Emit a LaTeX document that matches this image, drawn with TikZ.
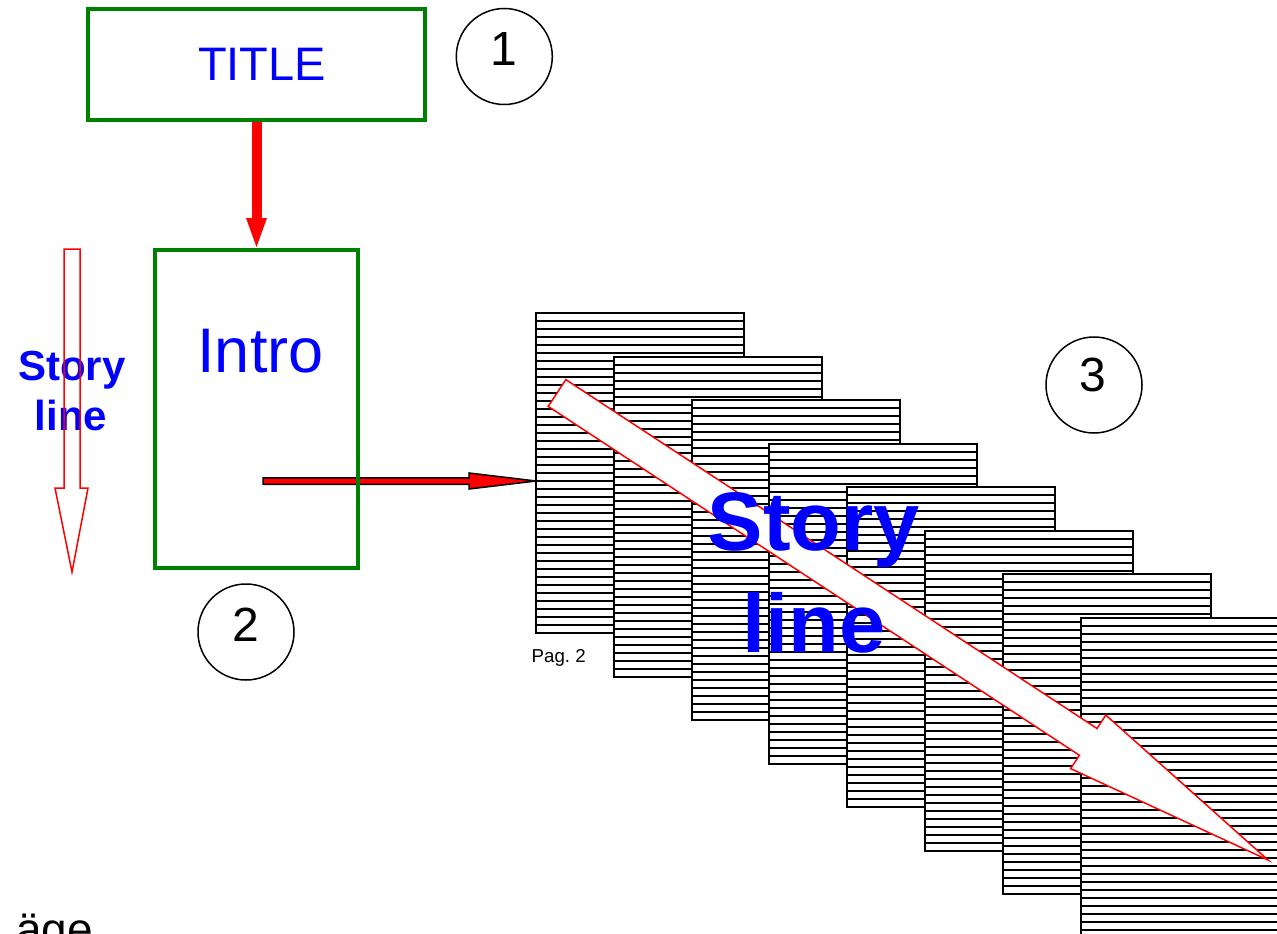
\documentclass[tikz,border=0pt]{standalone}
\usepackage{fontspec}
\setmainfont{Liberation Sans}
\usetikzlibrary{arrows.meta,calc}
\pgfdeclarelayer{background}
\pgfsetlayers{background,main}
\definecolor{tgreen}{RGB}{0,128,0}
\definecolor{tblue}{RGB}{0,0,255}
\definecolor{tred}{RGB}{255,0,0}
\begin{document}
\begin{tikzpicture}[x=1pt,y=-1pt,
  greenbox/.style={draw=tgreen, line width=4, inner sep=0, outer sep=0},
  circ/.style={draw=black, circle, line width=1.5, minimum size=96, inner sep=0, outer sep=0},
  numtxt/.style={inner sep=0, font=\fontsize{48}{56}\selectfont},
  bluetxt/.style={inner sep=0, text=tblue},
  page/.style={draw=black, fill=white, line width=1.5, minimum width=208, minimum height=320, inner sep=0, outer sep=0},
  pline/.style={black, line width=1.4},
  redconn/.style={tred, line width=10, -{Triangle[width=18pt,length=32pt]}},
  outlined/.style={fill=tred, draw=black, line width=1.5, line join=miter},
  hollow/.style={draw=tred, line width=1.5, line join=miter}
]
\useasboundingbox (0,0) rectangle (1277,934);
\clip (0,0) rectangle (1277,934);

% boxes
\node[greenbox, minimum width=337, minimum height=111] (title) at (256.5,64.5) {};
\node[bluetxt, anchor=base, font=\fontsize{47}{56}\selectfont] (titletxt) at (262,81) {TITLE};
\node[greenbox, minimum width=203, minimum height=318] (intro) at (256.5,409) {};
\node[bluetxt, anchor=base, font=\fontsize{63}{76}\selectfont] (introtxt) at (260.5,372) {Intro};

% numbered circles
\node[circ] (c1) at (504.3,56.5) {};
\node[numtxt] (n1) at (504,49) {1};
\node[circ] (c2) at (246,632) {};
\node[numtxt] (n2) at (246,625) {2};
\node[circ] (c3) at (1094,385) {};
\node[numtxt] (n3) at (1093,375) {3};

% pages
\foreach \i in {0,...,7} {
  \pgfmathsetmacro\px{round(536+77.8*\i)}
  \pgfmathsetmacro\py{round(313+43.5*\i)}
  \node[page] (p\i) at (\px+104,\py+160) {};
  \foreach \k in {1,...,39} {
    \draw[pline] (p\i.north west) ++(0,8*\k) -- ++(208,0);
  }
}
\node[inner sep=0, anchor=base west, font=\fontsize{18.7}{22}\selectfont] (pag) at (531.5,662) {Pag.~2};

% connectors (behind the boxes)
\coordinate (s) at (263,481);
\coordinate (t) at (s -| p0.west);
\begin{pgfonlayer}{background}
  \draw[redconn] (title.south) -- (intro.north);
  \draw[outlined] ($(s)+(0,-3.25)$) -- ($(t)+(-67,-3.25)$) -- ($(t)+(-67,-8)$) -- (t)
     -- ($(t)+(-67,8)$) -- ($(t)+(-67,3.25)$) -- ($(s)+(0,3.25)$) -- cycle;
\end{pgfonlayer}

% big hollow arrow across the pages
\draw[hollow, fill=white] (548.2,406.4) -- (1079.4,755.3) -- (1070.6,768.6) -- (1268,860)
   -- (1105.8,715.1) -- (1097.0,728.5) -- (565.8,379.6) -- cycle;
\node[bluetxt, anchor=base, font=\fontsize{83}{100}\bfseries] (bigstory) at (814,550) {Story};
\node[bluetxt, anchor=base, font=\fontsize{83}{100}\bfseries] (bigline) at (814,652) {line};

% left story line
\node[bluetxt, anchor=base, font=\fontsize{42}{50}\bfseries] (smstory) at (72,380) {Story};
\node[bluetxt, anchor=base, font=\fontsize{42}{50}\bfseries] (smline) at (71,430) {line};
\draw[hollow] (64,249) -- (80,249) -- (80,488) -- (88,488) -- (72,572) -- (55,488) -- (64,488) -- cycle;

% clipped text at bottom left
\node[inner sep=0, anchor=base west, font=\fontsize{46}{54}\selectfont] (age) at (16,945) {äge};
\end{tikzpicture}
\end{document}
